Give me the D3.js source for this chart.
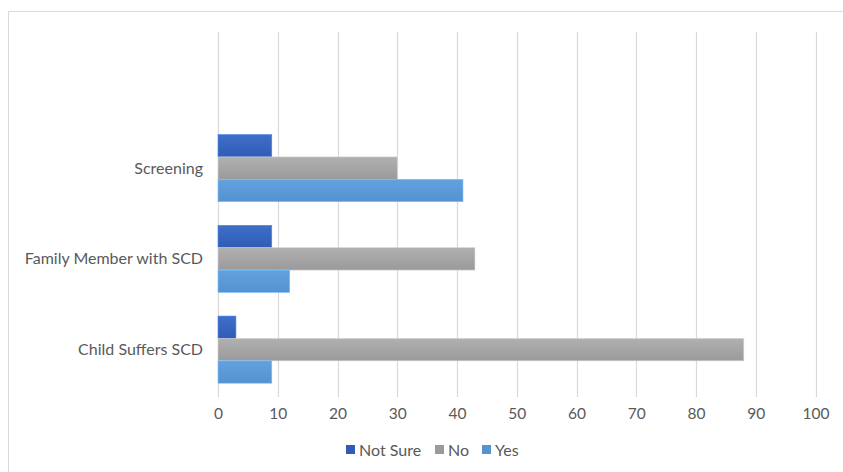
<!DOCTYPE html>
<html>
<head>
<meta charset="utf-8">
<script src="https://cdn.jsdelivr.net/npm/d3@7"></script>
<style>
  html, body { margin: 0; padding: 0; background: #fff; }
  svg { display: block; }
</style>
</head>
<body>
<svg id="chart" width="843" height="472"></svg>
<script>
// Survey responses per question (counts)
const categories = ["Screening", "Family Member with SCD", "Child Suffers SCD"];
const seriesNames = ["Not Sure", "No", "Yes"];
const notSure = [9, 9, 3];
const no = [30, 43, 88];
const yes = [41, 12, 9];
const xTicks = [0, 10, 20, 30, 40, 50, 60, 70, 80, 90, 100];

const seriesValues = [notSure, no, yes];
const colors = {
  "Not Sure": ["#3f6fca", "#2f5cb4"],
  "No": ["#b0b0b0", "#9a9a9a"],
  "Yes": ["#62a2de", "#5592d0"]
};

const W = 843, H = 472;
const margin = { top: 32, right: 28, bottom: 77, left: 218 };
const svg = d3.select("#chart");

// outer frame
svg.append("rect")
  .attr("x", 8.5).attr("y", 11.5)
  .attr("width", W + 10).attr("height", H + 10)
  .attr("fill", "none").attr("stroke", "#d9d9d9").attr("stroke-width", 1);

const x = d3.scaleLinear().domain([0, 100]).range([margin.left, 815.5]);

// an empty slot above the first question leaves the top of the plot open
const slots = ["", ...categories];
const y = d3.scaleBand().domain(slots).range([margin.top, H - margin.bottom]).paddingInner(0.26).paddingOuter(0.13);
const inner = d3.scaleBand().domain(seriesNames).range([0, y.bandwidth()]);

// gradients
const defs = svg.append("defs");
seriesNames.forEach((s, i) => {
  const g = defs.append("linearGradient").attr("id", "g" + i)
    .attr("x1", 0).attr("y1", 0).attr("x2", 0).attr("y2", 1);
  g.append("stop").attr("offset", "0%").attr("stop-color", colors[s][0]);
  g.append("stop").attr("offset", "100%").attr("stop-color", colors[s][1]);
});

// vertical gridlines
svg.append("g").selectAll("line").data(xTicks).join("line")
  .attr("x1", d => Math.round(x(d)) + 0.5).attr("x2", d => Math.round(x(d)) + 0.5)
  .attr("y1", margin.top).attr("y2", H - margin.bottom + 2)
  .attr("stroke", "#d9d9d9").attr("stroke-width", 1.2);

// bars
const groups = svg.append("g").selectAll("g").data(categories).join("g")
  .attr("transform", d => `translate(0,${y(d)})`);
seriesNames.forEach((s, si) => {
  groups.append("rect")
    .attr("x", x(0))
    .attr("y", inner(s))
    .attr("width", (d, ci) => x(seriesValues[si][ci]) - x(0))
    .attr("height", inner.bandwidth())
    .attr("fill", `url(#g${si})`)
    .attr("stroke", d3.color(colors[s][0]).brighter(0.5))
    .attr("stroke-width", 0.6);
});

const font = "Lato, 'Open Sans', sans-serif";

// category labels
svg.append("g").selectAll("text").data(categories).join("text")
  .attr("x", 203).attr("y", d => y(d) + y.bandwidth() / 2)
  .attr("dy", "0.35em").attr("text-anchor", "end")
  .attr("font-family", font).attr("font-size", 16).attr("fill", "#595959")
  .text(d => d);

// x axis tick labels
const xAxis = d3.axisBottom(x).tickValues(xTicks).tickSize(0).tickPadding(11);
const ax = svg.append("g").attr("transform", `translate(0,${H - margin.bottom + 2})`).call(xAxis);
ax.select(".domain").remove();
ax.selectAll("text").attr("font-family", font).attr("font-size", 15.5).attr("fill", "#595959");

// legend
const legendItems = [
  { name: "Not Sure", x: 346 },
  { name: "No", x: 435 },
  { name: "Yes", x: 482 }
];
const lg = svg.append("g").selectAll("g").data(legendItems).join("g")
  .attr("transform", d => `translate(${d.x},450)`);
lg.append("rect").attr("x", 0).attr("y", -5).attr("width", 9).attr("height", 9)
  .attr("fill", (d, i) => colors[d.name][1]);
lg.append("text").attr("x", 13).attr("y", 0).attr("dy", "0.35em")
  .attr("font-family", font).attr("font-size", 16).attr("fill", "#595959")
  .text(d => d.name);
</script>
</body>
</html>
